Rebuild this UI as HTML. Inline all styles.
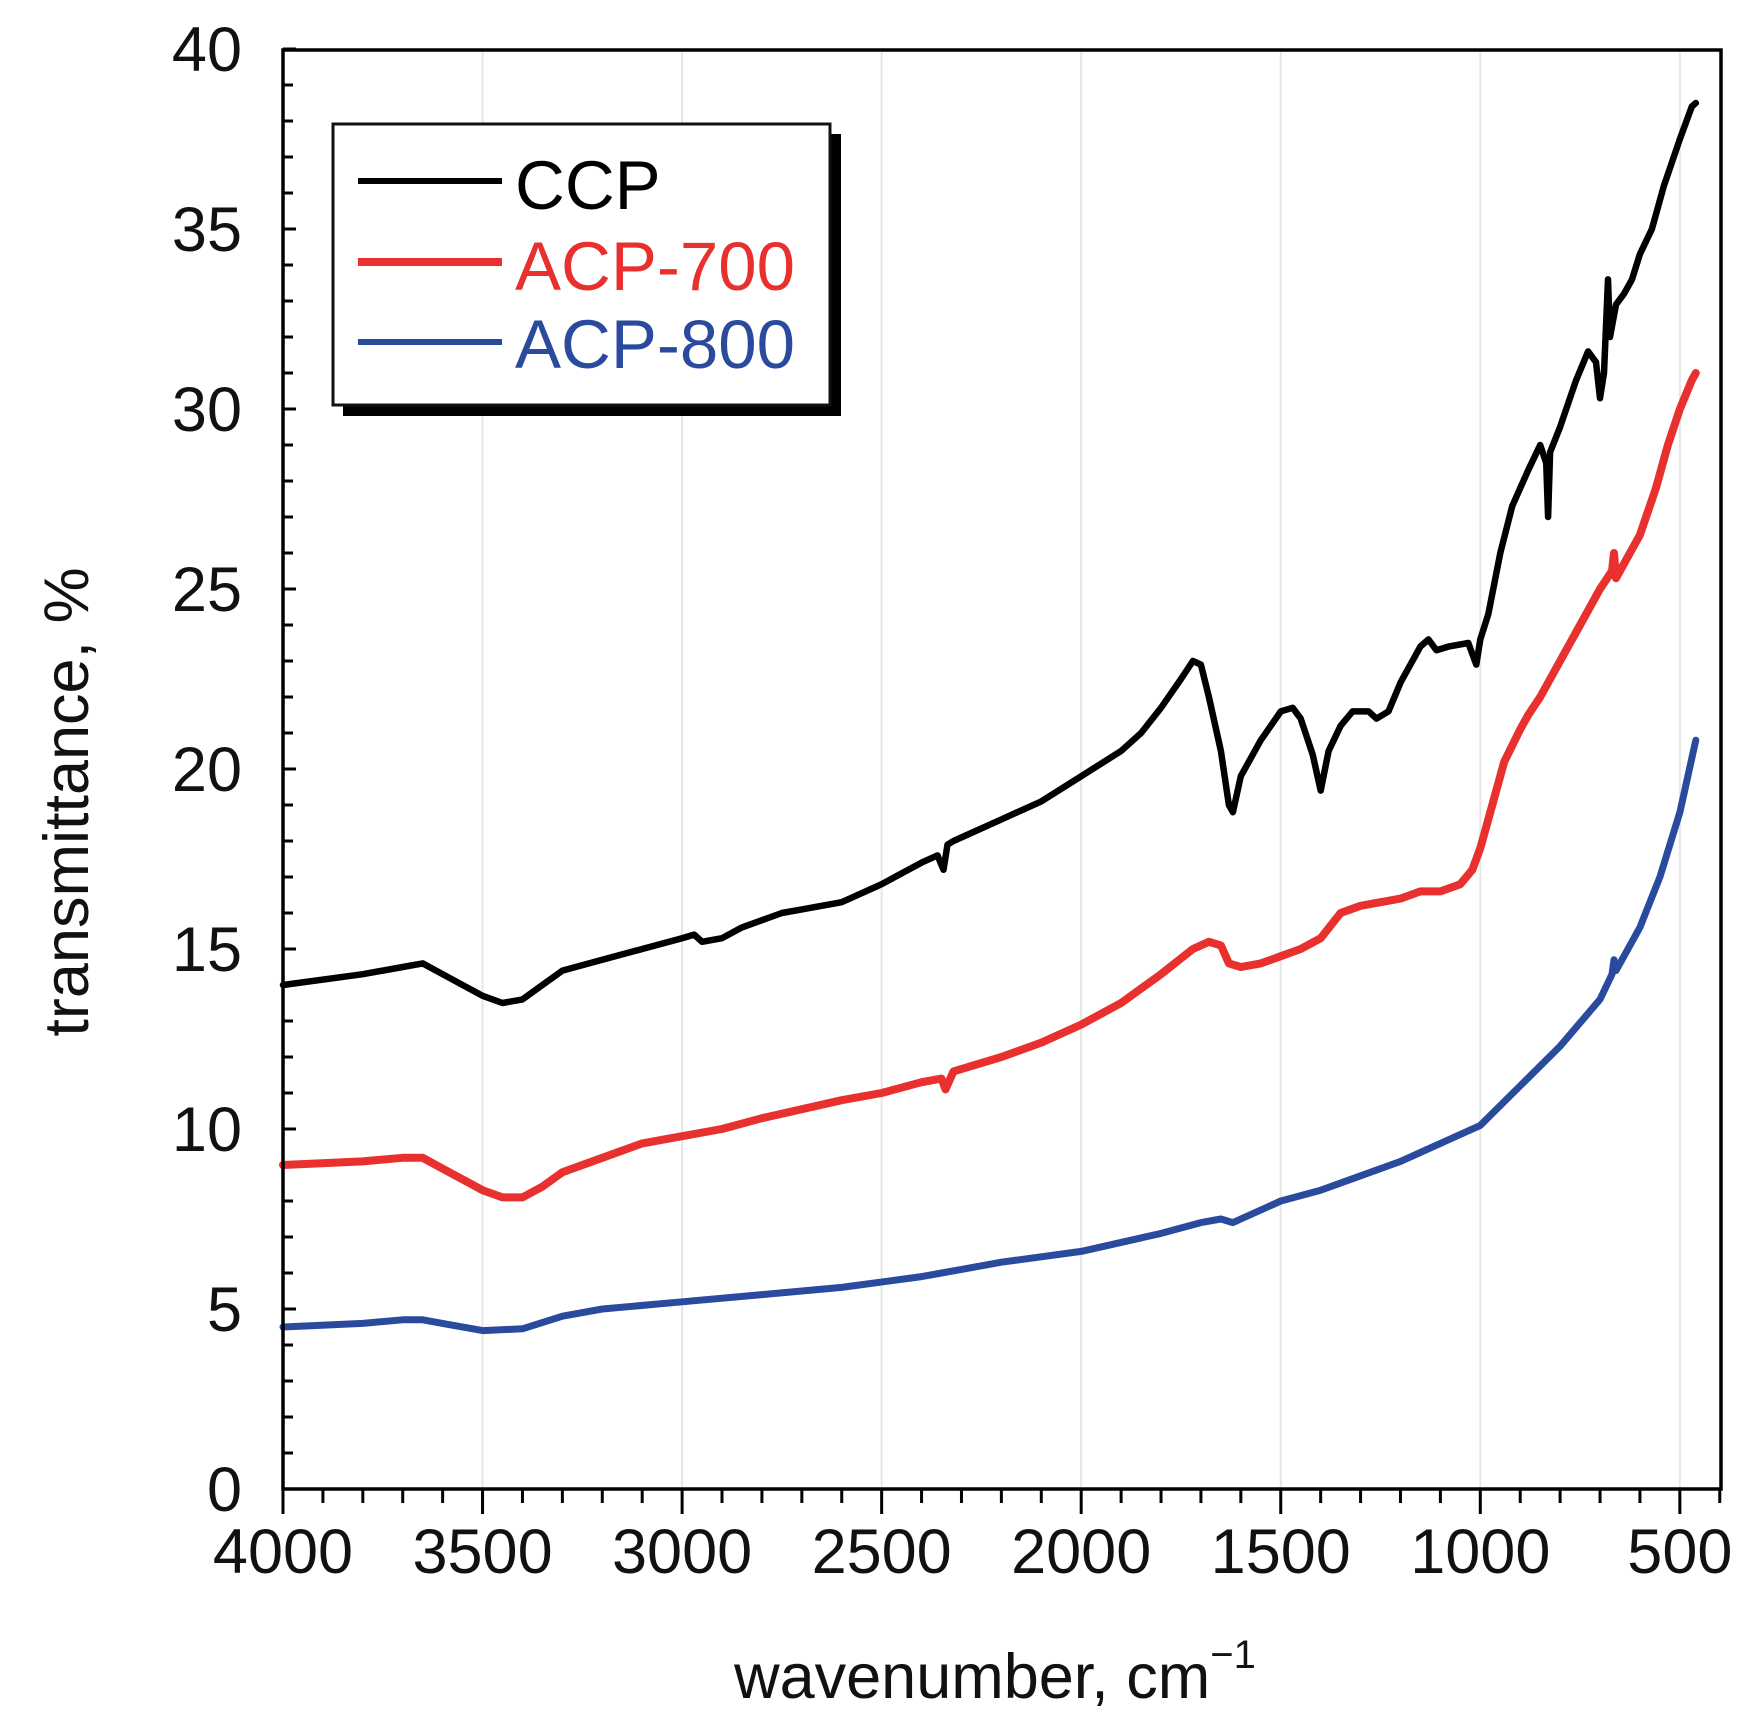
<!DOCTYPE html>
<html><head><meta charset="utf-8"><style>html,body{margin:0;padding:0;background:#fff}svg{display:block}</style></head>
<body>
<svg id="s" width="1751" height="1715" viewBox="0 0 1751 1715" xmlns="http://www.w3.org/2000/svg" font-family="Liberation Sans, Arial, sans-serif">
<g id="grid" stroke="#e6e6e6" stroke-width="2"></g>
<g id="ticks" stroke="#000" stroke-width="3"></g>
<g id="series" fill="none" stroke-linejoin="round" stroke-linecap="round"></g>
<rect x="283" y="50" width="1438" height="1439" fill="none" stroke="#000" stroke-width="3.5"/>
<g id="labels" font-size="63" fill="#111"></g>
<text x="0" y="0" font-size="63" fill="#111" text-anchor="middle" transform="translate(88,802) rotate(-90)">transmittance, %</text>
<text x="995" y="1698" font-size="63" fill="#111" text-anchor="middle">wavenumber, cm<tspan dy="-30" font-size="40">−1</tspan></text>
<rect x="343" y="134" width="498" height="282" fill="#000"/>
<rect x="333" y="124" width="497" height="281" fill="#fff" stroke="#111" stroke-width="3"/>
<line x1="358" y1="181" x2="502" y2="181" stroke="#000" stroke-width="6"/>
<line x1="358" y1="262" x2="502" y2="262" stroke="#e8302e" stroke-width="8"/>
<line x1="358" y1="342" x2="502" y2="342" stroke="#2a4a9e" stroke-width="6"/>
<text x="515" y="209" font-size="69" fill="#000">CCP</text>
<text x="515" y="290" font-size="69" fill="#e8302e">ACP-700</text>
<text x="515" y="368" font-size="69" fill="#2a4a9e">ACP-800</text>
</svg>
<script>
const X=w=>283+(4000-w)*0.3991, Y=v=>1489-36*v, NS="http://www.w3.org/2000/svg";
function el(p,t,a){const e=document.createElementNS(NS,t);for(const k in a)e.setAttribute(k,a[k]);document.getElementById(p).appendChild(e);return e;}
for(let w=3500;w>=500;w-=500)el("grid","line",{x1:X(w),y1:52,x2:X(w),y2:1487});
for(let w=4000;w>=400;w-=100){const m=w%500==0;el("ticks","line",{x1:X(w),y1:1489,x2:X(w),y2:1489+(m?25:14)});}
for(let v=0;v<=40;v++){const m=v%5==0;el("ticks","line",{x1:283,y1:Y(v),x2:283+(m?13:10),y2:Y(v)});}
for(let v=0;v<=40;v+=5){const t=el("labels","text",{x:242,y:Y(v)+22,"text-anchor":"end"});t.textContent=v;}
for(let w=4000;w>=500;w-=500){const t=el("labels","text",{x:X(w),y:1573,"text-anchor":"middle"});t.textContent=w;}
const ccp=[[4000,14.0],[3800,14.3],[3700,14.5],[3650,14.6],[3600,14.3],[3500,13.7],[3450,13.5],[3400,13.6],[3350,14.0],[3300,14.4],[3200,14.7],[3100,15.0],[3000,15.3],[2970,15.4],[2950,15.2],[2900,15.3],[2850,15.6],[2750,16.0],[2700,16.1],[2600,16.3],[2500,16.8],[2400,17.4],[2360,17.6],[2345,17.2],[2335,17.9],[2320,18.0],[2300,18.1],[2200,18.6],[2100,19.1],[2000,19.8],[1900,20.5],[1850,21.0],[1800,21.7],[1750,22.5],[1720,23.0],[1700,22.9],[1680,22.0],[1650,20.5],[1630,19.0],[1620,18.8],[1600,19.8],[1550,20.8],[1500,21.6],[1470,21.7],[1450,21.4],[1420,20.4],[1400,19.4],[1380,20.5],[1350,21.2],[1320,21.6],[1280,21.6],[1260,21.4],[1230,21.6],[1200,22.4],[1150,23.4],[1130,23.6],[1110,23.3],[1080,23.4],[1030,23.5],[1010,22.9],[1000,23.6],[980,24.3],[950,26.0],[920,27.3],[880,28.3],[850,29.0],[835,28.5],[830,27.0],[825,28.8],[800,29.5],[760,30.8],[730,31.6],[710,31.3],[700,30.3],[690,31.0],[680,33.6],[675,32.0],[660,32.9],[640,33.2],[620,33.6],[600,34.3],[570,35.0],[540,36.2],[500,37.5],[470,38.4],[460,38.5]];
const a7=[[4000,9.0],[3800,9.1],[3700,9.2],[3650,9.2],[3600,8.9],[3500,8.3],[3450,8.1],[3400,8.1],[3350,8.4],[3300,8.8],[3200,9.2],[3100,9.6],[3000,9.8],[2900,10.0],[2800,10.3],[2600,10.8],[2500,11.0],[2400,11.3],[2350,11.4],[2340,11.1],[2320,11.6],[2200,12.0],[2100,12.4],[2000,12.9],[1900,13.5],[1800,14.3],[1720,15.0],[1680,15.2],[1650,15.1],[1630,14.6],[1600,14.5],[1550,14.6],[1500,14.8],[1450,15.0],[1400,15.3],[1350,16.0],[1300,16.2],[1250,16.3],[1200,16.4],[1150,16.6],[1100,16.6],[1050,16.8],[1020,17.2],[1000,17.8],[970,19.0],[940,20.2],[900,21.1],[880,21.5],[850,22.0],[800,23.0],[750,24.0],[700,25.0],[670,25.5],[665,26.0],[660,25.3],[600,26.5],[560,27.8],[530,29.0],[500,30.0],[470,30.8],[460,31.0]];
const a8=[[4000,4.5],[3800,4.6],[3700,4.7],[3650,4.7],[3600,4.6],[3500,4.4],[3400,4.45],[3300,4.8],[3200,5.0],[3000,5.2],[2800,5.4],[2600,5.6],[2400,5.9],[2350,6.0],[2300,6.1],[2200,6.3],[2000,6.6],[1800,7.1],[1700,7.4],[1650,7.5],[1620,7.4],[1600,7.5],[1500,8.0],[1400,8.3],[1300,8.7],[1200,9.1],[1100,9.6],[1000,10.1],[900,11.2],[800,12.3],[700,13.6],[670,14.3],[665,14.7],[660,14.4],[600,15.6],[550,17.0],[500,18.8],[460,20.8]];
function path(d,c,w){el("series","path",{d:"M"+d.map(p=>X(p[0]).toFixed(1)+","+Y(p[1]).toFixed(1)).join("L"),stroke:c,"stroke-width":w});}
path(a8,"#2a4a9e",7);path(a7,"#e8302e",8);path(ccp,"#000",6.5);
</script>
</body></html>
